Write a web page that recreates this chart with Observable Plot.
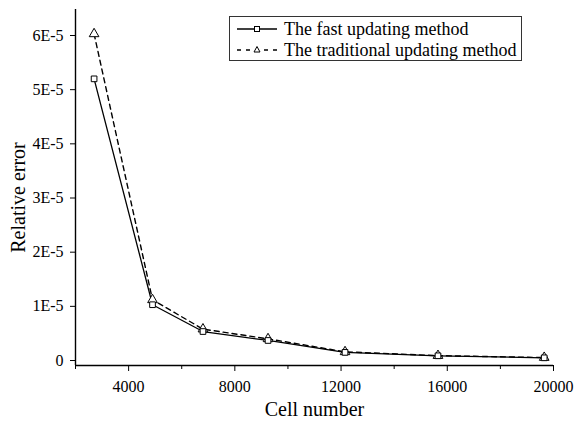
<!DOCTYPE html>
<html>
<head>
<meta charset="utf-8">
<script src="https://cdn.jsdelivr.net/npm/d3@7"></script>
<script src="https://cdn.jsdelivr.net/npm/@observablehq/plot@0.6"></script>
<style>
  body { margin: 0; background: #fff; }
  #wrap { position: relative; width: 578px; height: 423px; font-family: "Liberation Serif", "Times New Roman", serif; }
  #legend { position: absolute; left: 229px; top: 16px; width: 291px; height: 43px; border: 1px solid #333; background: #fff; font-size: 18px; color: #000; }
  #legend .row { position: absolute; left: 0; height: 22px; display: flex; align-items: center; white-space: nowrap; }
  #legend svg { display: block; margin-right: 5px; }
</style>
</head>
<body>
<div id="wrap"></div>
<script>
// Data
const cells = [2700, 4900, 6800, 9250, 12150, 15650, 19650];
const fastErr = [5.2e-5, 1.03e-5, 0.535e-5, 0.37e-5, 0.15e-5, 0.087e-5, 0.05e-5];
const tradErr = [6.03e-5, 1.12e-5, 0.58e-5, 0.40e-5, 0.16e-5, 0.09e-5, 0.055e-5];
const seriesNames = ["The fast updating method", "The traditional updating method"];
const xMajorTicks = [4000, 8000, 12000, 16000, 20000];
const xMinorTicks = [2000, 6000, 10000, 14000, 18000];
const yTicks = [0, 1e-5, 2e-5, 3e-5, 4e-5, 5e-5, 6e-5];
const xDomain = [2000, 20000];
const yDomain = [-0.092e-5, 6.48e-5];
const xLabel = "Cell number";
const yLabel = "Relative error";

const fast = cells.map((c, i) => ({x: c, y: fastErr[i]}));
const trad = cells.map((c, i) => ({x: c, y: tradErr[i]}));

const fmtY = d => d === 0 ? "0" : `${Math.round(d * 1e5)}E-5`;

const chart = Plot.plot({
  width: 578,
  height: 423,
  marginLeft: 75,
  marginRight: 25,
  marginTop: 9,
  marginBottom: 58,
  style: {fontFamily: '"Liberation Serif", "Times New Roman", serif', fontSize: "16px", color: "#000", background: "#fff", overflow: "visible"},
  x: {domain: xDomain},
  y: {domain: yDomain},
  marks: [
    Plot.axisY({ticks: yTicks, tickFormat: fmtY, tickSize: 5, tickPadding: 7, label: null, fontSize: 16, stroke: "#000"}),
    Plot.axisX({ticks: xMajorTicks, tickFormat: d => String(d), tickSize: 6, tickPadding: 9, label: null, fontSize: 16, stroke: "#000"}),
    Plot.axisX({ticks: xMinorTicks, tickFormat: () => "", tickSize: 4, label: null, stroke: "#000"}),
    Plot.ruleY([yDomain[0]], {stroke: "#000", strokeWidth: 1.4}),
    Plot.ruleX([xDomain[0]], {stroke: "#000", strokeWidth: 1.4}),
    Plot.line(trad, {x: "x", y: "y", stroke: "#000", strokeWidth: 1.4, strokeDasharray: "5,4"}),
    Plot.line(fast, {x: "x", y: "y", stroke: "#000", strokeWidth: 1.3}),
    Plot.dot(trad, {x: "x", y: "y", symbol: "triangle", r: 3.6, fill: "#fff", stroke: "#000", strokeWidth: 1}),
    Plot.dot(fast, {x: "x", y: "y", symbol: "square", r: 3.2, fill: "#fff", stroke: "#000", strokeWidth: 1}),
    Plot.text([xLabel], {text: d => d, frameAnchor: "bottom", dy: 44, fontSize: 20, textAnchor: "middle", lineAnchor: "middle", fill: "#000"}),
    Plot.text([yLabel], {text: d => d, frameAnchor: "left", dx: -57, dy: 10, rotate: -90, fontSize: 20, textAnchor: "middle", lineAnchor: "middle", fill: "#000"})
  ]
});

const wrap = document.getElementById("wrap");
wrap.appendChild(chart);

// Legend
const legend = document.createElement("div");
legend.id = "legend";
const sq = '<rect x="17.5" y="8.5" width="5" height="5" fill="#fff" stroke="#000" stroke-width="1"/>';
const tri = '<path d="M20,7.5 L23,13 L17,13 Z" fill="#fff" stroke="#000" stroke-width="1"/>';
const rows = [
  {name: seriesNames[0], line: '<line x1="0" y1="11" x2="40" y2="11" stroke="#000" stroke-width="1.5"/>', sym: sq, top: 1},
  {name: seriesNames[1], line: '<line x1="0" y1="11" x2="40" y2="11" stroke="#000" stroke-width="1.5" stroke-dasharray="4,5"/>', sym: tri, top: 22}
];
rows.forEach(r => {
  const row = document.createElement("div");
  row.className = "row";
  row.style.top = r.top + "px";
  row.style.left = "7px";
  row.innerHTML = `<svg width="42" height="22">${r.line}${r.sym}</svg><span>${r.name}</span>`;
  legend.appendChild(row);
});
wrap.appendChild(legend);
</script>
</body>
</html>
